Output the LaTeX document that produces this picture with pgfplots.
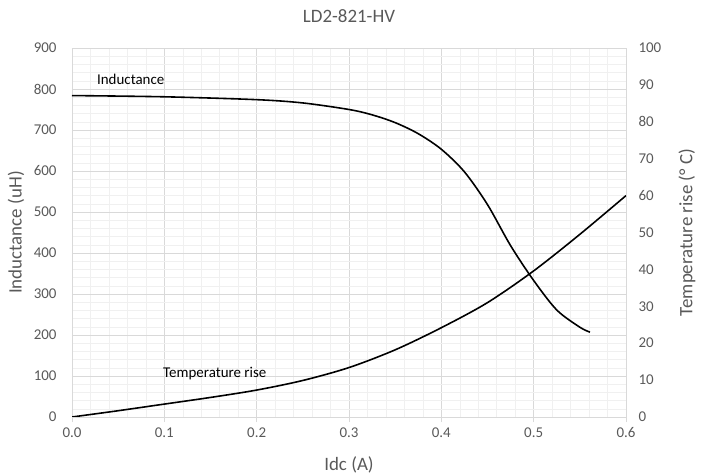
\documentclass[border=0pt]{standalone}
\usepackage{fontspec}
\setmainfont{Carlito}
\usepackage{pgfplots}
\pgfplotsset{compat=1.18}

\definecolor{txtgray}{RGB}{89,89,89}
\definecolor{majgrid}{RGB}{217,217,217}
\definecolor{mingrid}{RGB}{240,240,240}

\begin{document}
\begin{tikzpicture}
% left axis: inductance, carries the grid
\begin{axis}[
  name=ax,
  scale only axis,
  width=554bp, height=369bp,
  xmin=0, xmax=0.6, ymin=0, ymax=900,
  xtick={0,0.1,...,0.6}, ytick={0,100,...,900},
  minor x tick num=4, minor y tick num=4,
  xticklabel style={/pgf/number format/fixed, /pgf/number format/fixed zerofill,
    /pgf/number format/precision=1, yshift=-2bp},
  /pgf/number format/assume math mode=true,
  grid=both,
  major grid style={majgrid, line width=0.8pt},
  minor grid style={mingrid, line width=0.6pt},
  axis line style={majgrid, line width=0.8pt},
  tick style={majgrid, line width=0.8pt},
  major tick length=5bp, minor tick length=0pt,
  xtick pos=bottom, ytick pos=left,
  xtick align=outside, ytick style={draw=none},
  tick label style={font=\fontsize{15}{18}\selectfont, text=txtgray},
  yticklabel style={xshift=-12bp},
  xlabel={Idc (A)}, ylabel={Inductance (uH)},
  label style={font=\fontsize{19}{22}\selectfont, text=txtgray},
  xlabel style={at={(axis description cs:0.5,-0.130)}, anchor=center},
  ylabel style={at={(axis description cs:-0.101,0.5)}, anchor=center},
  title={LD2-821-HV},
  title style={at={(axis description cs:0.5,1.070)}, anchor=center,
    font=\fontsize{19}{22}\selectfont, text=txtgray},
]
\addplot[black, line width=1.6pt, smooth] coordinates {
  (0,784) (0.1,781) (0.2,774) (0.25,766) (0.3,750) (0.325,737)
  (0.35,718) (0.375,691) (0.4,653) (0.425,598) (0.45,518) (0.475,418)
  (0.5,333) (0.525,261) (0.55,219) (0.561,207)
};
\node[anchor=west, font=\fontsize{15}{18}\selectfont, inner sep=0pt]
  at (axis cs:0.027,824) {Inductance};
\node[anchor=west, font=\fontsize{15}{18}\selectfont, inner sep=0pt]
  at (axis cs:0.0986,107) {Temperature rise};
\end{axis}

% right axis: temperature rise
\begin{axis}[
  scale only axis,
  width=554bp, height=369bp,
  xmin=0, xmax=0.6, ymin=0, ymax=100,
  ytick={0,10,...,100},
  axis x line=none,
  axis y line*=right,
  y axis line style={draw=none},
  ytick style={draw=none},
  /pgf/number format/assume math mode=true,
  tick label style={font=\fontsize{15}{18}\selectfont, text=txtgray},
  yticklabel style={xshift=9bp},
  ylabel={Temperature rise (° C)},
  ylabel style={at={(axis description cs:1.110,0.5)}, anchor=center,
    font=\fontsize{19}{22}\selectfont, text=txtgray},
]
\addplot[black, line width=1.6pt, smooth] coordinates {
  (0,0) (0.05,1.7) (0.1,3.5) (0.15,5.3) (0.2,7.3) (0.25,9.9)
  (0.3,13.4) (0.35,18.2) (0.4,24.2) (0.45,31.0) (0.5,39.6)
  (0.55,49.5) (0.6,60)
};
\end{axis}

\pgfresetboundingbox
\path (ax.south west) ++(-72bp,-59bp) rectangle ++(711bp,476bp);
\end{tikzpicture}
\end{document}
